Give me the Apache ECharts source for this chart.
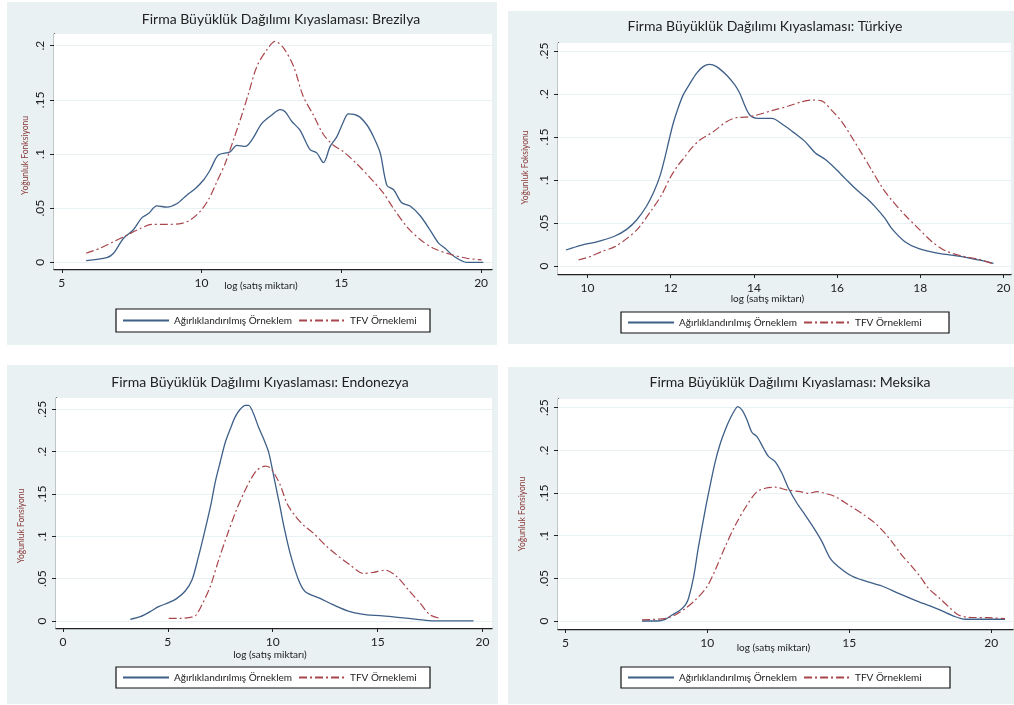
<!DOCTYPE html>
<html><head><meta charset="utf-8">
<script src="https://cdn.jsdelivr.net/npm/echarts@6/dist/echarts.min.js"></script>
<style>html,body{margin:0;padding:0;background:#fff}#c{width:1014px;height:705px}</style>
</head><body><div id="c"></div>
<script>
// ---------- DATA ----------
const seriesNames = ['Ağırlıklandırılmış Örneklem', 'TFV Örneklemi'];
const panelTitles = [
  'Firma Büyüklük Dağılımı Kıyaslaması: Brezilya',
  'Firma Büyüklük Dağılımı Kıyaslaması: Türkiye',
  'Firma Büyüklük Dağılımı Kıyaslaması: Endonezya',
  'Firma Büyüklük Dağılımı Kıyaslaması: Meksika'
];
const yAxisNames = ['Yoğunluk Fonksiyonu', 'Yoğunluk Foksiyonu', 'Yoğunluk Fonsiyonu', 'Yoğunluk Fonsiyonu'];
const xAxisName = 'log (satış miktarı)';

const brazilXTicks = [5, 10, 15, 20];
const turkeyXTicks = [10, 12, 14, 16, 18, 20];
const indonesiaXTicks = [0, 5, 10, 15, 20];
const mexicoXTicks = [5, 10, 15, 20];
const brazilYTicks = [0, 0.05, 0.1, 0.15, 0.2];
const otherYTicks = [0, 0.05, 0.1, 0.15, 0.2, 0.25];

const brazilWeighted = [[5.87,0.0015],[6.61,0.0043],[6.85,0.0083],[7.2,0.022],[7.56,0.030],[7.86,0.041],[8.1,0.045],[8.4,0.052],[8.76,0.051],[9.11,0.054],[9.47,0.062],[9.77,0.068],[10.07,0.076],[10.3,0.085],[10.6,0.099],[11.02,0.102],[11.26,0.108],[11.56,0.107],[11.8,0.113],[12.15,0.128],[12.51,0.136],[12.81,0.141],[12.99,0.139],[13.23,0.130],[13.52,0.122],[13.88,0.104],[14.12,0.101],[14.36,0.092],[14.6,0.107],[14.84,0.116],[15.08,0.130],[15.25,0.137],[15.61,0.135],[15.91,0.127],[16.15,0.116],[16.39,0.101],[16.63,0.071],[16.87,0.067],[17.16,0.055],[17.46,0.052],[17.82,0.043],[18.17,0.030],[18.47,0.018],[18.71,0.013],[19.0,0.006],[19.49,0.0],[20.08,0.0]];
const brazilTFV = [[5.87,0.0083],[6.37,0.013],[6.85,0.019],[7.32,0.025],[7.8,0.031],[8.22,0.035],[8.76,0.035],[9.29,0.036],[9.59,0.039],[9.95,0.047],[10.25,0.058],[10.54,0.074],[10.84,0.091],[11.14,0.113],[11.44,0.136],[11.68,0.156],[11.98,0.181],[12.33,0.196],[12.63,0.204],[12.93,0.198],[13.29,0.181],[13.64,0.153],[14.0,0.136],[14.36,0.118],[14.72,0.108],[15.08,0.102],[15.55,0.091],[16.03,0.078],[16.5,0.064],[16.86,0.050],[17.34,0.033],[17.82,0.021],[18.29,0.013],[18.89,0.0074],[19.49,0.0037],[20.02,0.0022]];

const turkeyWeighted = [[9.48,0.0186],[9.86,0.0244],[10.18,0.0275],[10.66,0.0349],[10.94,0.0426],[11.18,0.0535],[11.42,0.0698],[11.6,0.087],[11.75,0.106],[11.86,0.126],[11.96,0.1465],[12.06,0.166],[12.18,0.184],[12.3,0.199],[12.46,0.212],[12.62,0.224],[12.78,0.2318],[12.93,0.2345],[13.1,0.2318],[13.34,0.222],[13.54,0.2105],[13.66,0.2008],[13.76,0.189],[13.9,0.1756],[14.1,0.1717],[14.43,0.1717],[14.71,0.164],[14.99,0.154],[15.23,0.1446],[15.47,0.1318],[15.71,0.124],[15.95,0.1136],[16.19,0.1019],[16.43,0.0903],[16.71,0.0787],[16.91,0.0690],[17.15,0.0554],[17.31,0.0438],[17.63,0.0283],[17.95,0.0205],[18.44,0.0147],[18.92,0.0116],[19.4,0.007],[19.76,0.0031]];
const turkeyTFV = [[9.78,0.0070],[10.06,0.0109],[10.34,0.0167],[10.66,0.0225],[10.98,0.0333],[11.22,0.0438],[11.54,0.0651],[11.78,0.0826],[11.98,0.102],[12.16,0.116],[12.34,0.127],[12.5,0.137],[12.7,0.1465],[13.02,0.156],[13.34,0.1678],[13.58,0.1725],[13.79,0.173],[14.03,0.175],[14.43,0.1806],[14.83,0.186],[15.15,0.191],[15.39,0.193],[15.63,0.192],[15.87,0.181],[16.11,0.168],[16.35,0.150],[16.59,0.131],[16.83,0.1116],[17.07,0.0922],[17.31,0.0767],[17.63,0.0593],[17.95,0.0438],[18.28,0.0283],[18.6,0.0178],[19.0,0.0116],[19.4,0.0078],[19.72,0.0031]];

const indonesiaWeighted = [[3.21,0.002],[3.69,0.0051],[4.16,0.011],[4.56,0.0169],[5.04,0.0216],[5.43,0.0267],[5.83,0.0354],[6.15,0.0483],[6.45,0.075],[6.75,0.105],[7.05,0.137],[7.26,0.164],[7.5,0.188],[7.74,0.211],[7.98,0.227],[8.21,0.241],[8.45,0.25],[8.69,0.2547],[8.85,0.2547],[9.08,0.245],[9.32,0.229],[9.56,0.2154],[9.8,0.1997],[10.04,0.172],[10.2,0.1525],[10.33,0.137],[10.52,0.113],[10.83,0.0798],[11.23,0.0483],[11.55,0.0346],[12.26,0.0267],[12.9,0.0189],[13.69,0.011],[14.49,0.0071],[15.12,0.0063],[16.08,0.0039],[16.87,0.002],[17.67,0.0],[19.57,0.0]];
const indonesiaTFV = [[5.04,0.0031],[5.59,0.0031],[6.07,0.0043],[6.31,0.0059],[6.62,0.0189],[7.02,0.0405],[7.42,0.0719],[7.82,0.1010],[8.25,0.1300],[8.61,0.1505],[8.93,0.1663],[9.25,0.178],[9.64,0.1828],[9.88,0.1808],[10.12,0.172],[10.36,0.1604],[10.68,0.1388],[11.07,0.124],[11.47,0.113],[11.95,0.1034],[12.5,0.0896],[13.06,0.0778],[13.69,0.066],[14.33,0.0562],[14.8,0.0574],[15.36,0.060],[15.92,0.0523],[16.47,0.0366],[17.03,0.0208],[17.5,0.0071],[17.98,0.0031]];

const mexicoWeighted = [[7.7,0.0],[8.23,0.0],[8.52,0.002],[8.76,0.007],[9.05,0.0129],[9.23,0.0188],[9.34,0.0266],[9.52,0.052],[9.69,0.0871],[9.96,0.136],[10.1,0.159],[10.28,0.1868],[10.46,0.2083],[10.63,0.2239],[10.81,0.2376],[10.99,0.2485],[11.07,0.2512],[11.22,0.2474],[11.4,0.2356],[11.57,0.2212],[11.75,0.216],[11.98,0.2025],[12.16,0.1926],[12.39,0.1868],[12.63,0.1731],[12.86,0.1556],[13.16,0.138],[13.45,0.1242],[13.8,0.1066],[14.04,0.093],[14.33,0.0734],[14.62,0.0637],[15.09,0.0527],[15.56,0.0469],[16.15,0.041],[16.74,0.0324],[17.44,0.0227],[18.15,0.0137],[18.73,0.0051],[19.08,0.002],[20.49,0.002]];
const mexicoTFV = [[7.7,0.0012],[8.17,0.002],[8.52,0.0031],[8.87,0.007],[9.23,0.0148],[9.58,0.0246],[9.99,0.0402],[10.28,0.0598],[10.63,0.0871],[10.99,0.1125],[11.4,0.136],[11.75,0.1516],[12.04,0.1556],[12.39,0.1568],[12.8,0.1536],[13.27,0.1516],[13.57,0.1496],[13.86,0.1516],[14.15,0.1496],[14.51,0.1457],[14.98,0.136],[15.45,0.126],[15.92,0.1145],[16.21,0.1047],[16.5,0.093],[16.85,0.0773],[17.21,0.0637],[17.5,0.052],[17.79,0.0383],[18.15,0.0277],[18.5,0.0168],[18.85,0.007],[19.2,0.0043],[19.9,0.0039],[20.49,0.0027]];

const panelData = [
  {w: brazilWeighted, t: brazilTFV, xt: brazilXTicks, yt: brazilYTicks},
  {w: turkeyWeighted, t: turkeyTFV, xt: turkeyXTicks, yt: otherYTicks},
  {w: indonesiaWeighted, t: indonesiaTFV, xt: indonesiaXTicks, yt: otherYTicks},
  {w: mexicoWeighted, t: mexicoTFV, xt: mexicoXTicks, yt: otherYTicks}
];

// ---------- LAYOUT ----------
const layout = [
  {bg:[7,2,490,343], grid:[54,34,438,235], x:[4.72,20.39], y:[-0.0062,0.2108], title:[281,19], xGap:12, xShift:12, yGap:24, yShift:4, leg:[116,309,314,23]},
  {bg:[508,11,506,333], grid:[558,43,453,231], x:[9.29,20.18], y:[-0.0093,0.2593], title:[765,26], xGap:20, xShift:17, yGap:28, yShift:9, leg:[621,312,328,21]},
  {bg:[7,365,491,339], grid:[56,398,436,230], x:[-0.33,20.45], y:[-0.0083,0.2633], title:[260,382], xGap:22, xShift:4, yGap:30, yShift:13, leg:[116,667,314,21]},
  {bg:[508,367,506,337], grid:[558,399,455,230], x:[4.74,20.77], y:[-0.0094,0.2602], title:[790,382], xGap:14, xShift:12, yGap:31, yShift:0, leg:[621,667,329,21]}
];

const FONT = 'Lato, "Open Sans", sans-serif';
const BLUE = '#3d5f88';
const RED = '#a8464c';
const BG = '#e9f1f3';
const yFmt = v => v === 0 ? '0' : String(v).replace(/^0/, '');

const grids = [], xAxes = [], yAxes = [], series = [], legends = [], graphics = [];
layout.forEach((L, i) => {
  const D = panelData[i];
  graphics.push({type:'rect', z:0, shape:{x:L.bg[0], y:L.bg[1], width:L.bg[2], height:L.bg[3]}, style:{fill:BG}});
  graphics.push({type:'rect', z:1, shape:{x:L.leg[0], y:L.leg[1], width:L.leg[2], height:L.leg[3]}, style:{fill:'#fff', stroke:'#111', lineWidth:1.2}});
  graphics.push({type:'text', z:2, x:L.title[0], y:L.title[1], style:{text:panelTitles[i], fill:'#222', font:'14px ' + FONT, textAlign:'center', textVerticalAlign:'middle'}});
  grids.push({left:L.grid[0], top:L.grid[1], width:L.grid[2], height:L.grid[3], show:true, backgroundColor:'#fff', borderWidth:0, z:2});
  xAxes.push({
    type:'value', gridIndex:i, min:L.x[0], max:L.x[1],
    name:xAxisName, nameLocation:'middle', nameGap:L.xGap, nameMoveOverlap:false,
    nameTextStyle:{fontFamily:FONT, fontSize:10, color:'#222', padding:[0, L.xShift*2, 0, 0]},
    axisLine:{onZero:false, lineStyle:{color:'#222', width:1.4}},
    axisTick:{customValues:D.xt, length:4, lineStyle:{color:'#222'}},
    axisLabel:{customValues:D.xt, margin:8, fontFamily:FONT, fontSize:12, color:'#222'},
    splitLine:{show:false}
  });
  yAxes.push({
    type:'value', gridIndex:i, min:L.y[0], max:L.y[1],
    name:yAxisNames[i], nameLocation:'middle', nameGap:L.yGap, nameMoveOverlap:false,
    nameTextStyle:{fontFamily:FONT, fontSize:8.5, color:'#8b3a3a', padding:[0, L.yShift*2, 0, 0]},
    axisLine:{onZero:false, lineStyle:{color:'#222', width:1.4}},
    axisTick:{customValues:D.yt, length:4, lineStyle:{color:'#222'}},
    axisLabel:{customValues:D.yt, rotate:90, margin:8, fontFamily:FONT, fontSize:12, color:'#222', formatter:yFmt},
    splitLine:{show:false}
  });
  series.push({
    name:seriesNames[0], type:'line', xAxisIndex:i, yAxisIndex:i, data:D.w, smooth:0.3,
    symbol:'none', z:4, lineStyle:{color:BLUE, width:1.3}, itemStyle:{color:BLUE}
  });
  series.push({
    name:seriesNames[1], type:'line', xAxisIndex:i, yAxisIndex:i, data:D.t, smooth:0.3,
    symbol:'none', z:4, lineStyle:{color:RED, width:1.2, type:[8,3,2,3]}, itemStyle:{color:RED},
    markLine:{silent:true, symbol:'none', z:3, label:{show:false}, lineStyle:{color:'#eaf1f4', width:1, type:'solid'},
      data:D.yt.map(v => ({yAxis:v}))}
  });
  legends.push({
    data:seriesNames, left:L.leg[0] + 6, top:L.leg[1] + L.leg[3]/2 - 7, padding:[2,0,2,0],
    itemWidth:46, itemHeight:10, itemGap:6, z:5,
    itemStyle:{opacity:0},
    textStyle:{fontFamily:FONT, fontSize:10, color:'#222'}
  });
});

const chart = echarts.init(document.getElementById('c'));
chart.setOption({
  animation:false,
  backgroundColor:'#fff',
  graphic:{elements:graphics},
  grid:grids, xAxis:xAxes, yAxis:yAxes, series:series, legend:legends
});
</script></body></html>
